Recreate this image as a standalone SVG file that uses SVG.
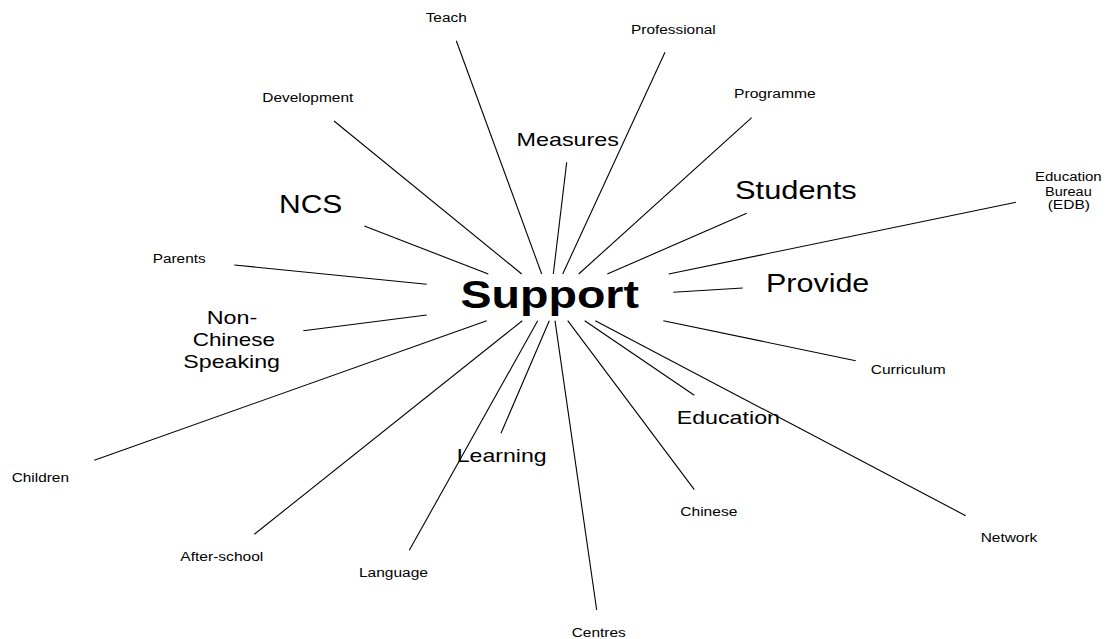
<svg xmlns="http://www.w3.org/2000/svg" width="1111" height="639" viewBox="0 0 1111 639">
  <style>
    text { font-family: "Liberation Sans", Arial, Helvetica, sans-serif; fill: #000; }
    .hub { font-size: 38.5px; font-weight: bold; }
    .lg { font-size: 26px; }
    .md { font-size: 19px; }
    .sm { font-size: 12.5px; }
    .links line { stroke: #000; stroke-width: 1.1; stroke-linecap: butt; }
  </style>
  <rect width="1111" height="639" fill="#fff"/>

  <!-- spokes from the central word to each surrounding term -->
  <g id="connectors" class="links">
    <line x1="334" y1="121" x2="521.7" y2="274"/>
    <line x1="456.3" y1="40.7" x2="541.7" y2="274"/>
    <line x1="566.7" y1="162.3" x2="553.3" y2="274"/>
    <line x1="665" y1="52.3" x2="562.7" y2="274"/>
    <line x1="751.7" y1="117.7" x2="578.7" y2="274"/>
    <line x1="746.7" y1="213.3" x2="607.3" y2="274"/>
    <line x1="364.3" y1="226" x2="488.3" y2="274"/>
    <line x1="1016" y1="202.3" x2="668.7" y2="274"/>
    <line x1="234.3" y1="265" x2="426.7" y2="284.3"/>
    <line x1="742.7" y1="288" x2="673.3" y2="292.3"/>
    <line x1="303.3" y1="330.7" x2="426.7" y2="315"/>
    <line x1="94.3" y1="460.3" x2="486.7" y2="320.7"/>
    <line x1="663.3" y1="320.7" x2="855.7" y2="360.7"/>
    <line x1="254.3" y1="534.3" x2="522.3" y2="320.7"/>
    <line x1="409.3" y1="550.3" x2="537.7" y2="320.7"/>
    <line x1="501" y1="433.3" x2="549.3" y2="320.7"/>
    <line x1="596.7" y1="610" x2="555" y2="320.7"/>
    <line x1="694.3" y1="489.7" x2="567.7" y2="320.7"/>
    <line x1="694.3" y1="395.3" x2="584.7" y2="320.7"/>
    <line x1="965.7" y1="515.7" x2="595.3" y2="320.7"/>
  </g>

  <g id="node-support"><text class="hub" x="460.5" y="308" textLength="178.5" lengthAdjust="spacingAndGlyphs">Support</text></g>

  <g id="node-measures"><text class="md" x="516.5" y="146" textLength="102.5" lengthAdjust="spacingAndGlyphs">Measures</text></g>
  <g id="node-ncs"><text class="lg" x="279" y="212.7" textLength="63.3" lengthAdjust="spacingAndGlyphs">NCS</text></g>
  <g id="node-students"><text class="lg" x="735" y="199" textLength="121.7" lengthAdjust="spacingAndGlyphs">Students</text></g>
  <g id="node-provide"><text class="lg" x="766" y="291.7" textLength="103.3" lengthAdjust="spacingAndGlyphs">Provide</text></g>
  <g id="node-ncs-full">
    <text class="md" x="206.7" y="324.3" textLength="50.6" lengthAdjust="spacingAndGlyphs">Non-</text>
    <text class="md" x="192.7" y="346" textLength="82.3" lengthAdjust="spacingAndGlyphs">Chinese</text>
    <text class="md" x="183.3" y="368.3" textLength="96.7" lengthAdjust="spacingAndGlyphs">Speaking</text>
  </g>
  <g id="node-education"><text class="md" x="676.7" y="424" textLength="103.3" lengthAdjust="spacingAndGlyphs">Education</text></g>
  <g id="node-learning"><text class="md" x="456.7" y="461.7" textLength="90" lengthAdjust="spacingAndGlyphs">Learning</text></g>

  <g id="node-teach"><text class="sm" x="425.7" y="21.7" textLength="41" lengthAdjust="spacingAndGlyphs">Teach</text></g>
  <g id="node-professional"><text class="sm" x="631" y="34" textLength="84.7" lengthAdjust="spacingAndGlyphs">Professional</text></g>
  <g id="node-development"><text class="sm" x="262.3" y="102" textLength="91" lengthAdjust="spacingAndGlyphs">Development</text></g>
  <g id="node-programme"><text class="sm" x="734" y="98.3" textLength="81.7" lengthAdjust="spacingAndGlyphs">Programme</text></g>
  <g id="node-edb">
    <text class="sm" x="1035" y="181" textLength="66.7" lengthAdjust="spacingAndGlyphs">Education</text>
    <text class="sm" x="1045" y="195.5" textLength="46.7" lengthAdjust="spacingAndGlyphs">Bureau</text>
    <text class="sm" x="1047.7" y="209.3" textLength="42.3" lengthAdjust="spacingAndGlyphs">(EDB)</text>
  </g>
  <g id="node-parents"><text class="sm" x="152.7" y="262.7" textLength="53" lengthAdjust="spacingAndGlyphs">Parents</text></g>
  <g id="node-curriculum"><text class="sm" x="870.7" y="374" textLength="75" lengthAdjust="spacingAndGlyphs">Curriculum</text></g>
  <g id="node-children"><text class="sm" x="11.7" y="481.7" textLength="57.3" lengthAdjust="spacingAndGlyphs">Children</text></g>
  <g id="node-after-school"><text class="sm" x="180.3" y="560.7" textLength="83" lengthAdjust="spacingAndGlyphs">After-school</text></g>
  <g id="node-language"><text class="sm" x="359" y="576.7" textLength="69" lengthAdjust="spacingAndGlyphs">Language</text></g>
  <g id="node-chinese"><text class="sm" x="680.3" y="515.7" textLength="57" lengthAdjust="spacingAndGlyphs">Chinese</text></g>
  <g id="node-network"><text class="sm" x="980.7" y="542" textLength="56.6" lengthAdjust="spacingAndGlyphs">Network</text></g>
  <g id="node-centres"><text class="sm" x="571.7" y="636.7" textLength="54" lengthAdjust="spacingAndGlyphs">Centres</text></g>
</svg>
